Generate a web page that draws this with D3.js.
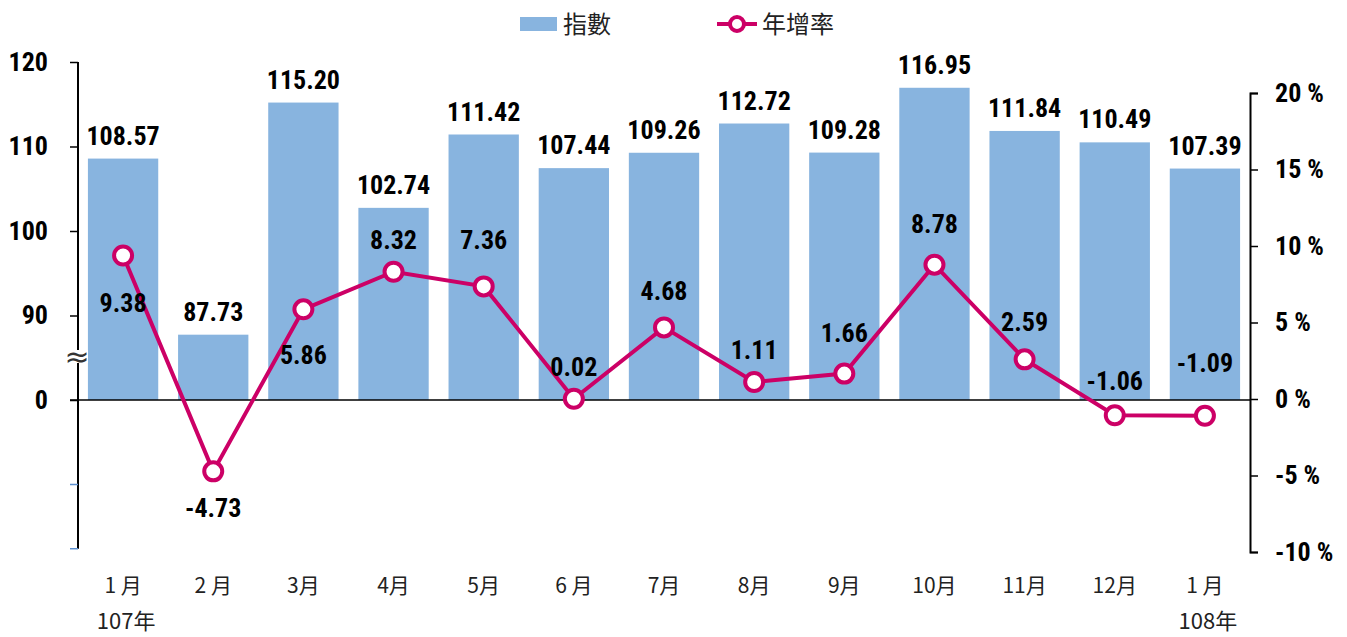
<!DOCTYPE html>
<html>
<head>
<meta charset="utf-8">
<script src="https://cdn.jsdelivr.net/npm/d3@7"></script>
<style>
  body { margin: 0; background: #fff; }
  .num { font-family: "Liberation Sans Narrow", "Arial Narrow", "Roboto Condensed", "Liberation Sans", sans-serif; font-weight: bold; font-stretch: condensed; }
  .cjk { font-family: "Noto Sans CJK TC", "Noto Sans CJK SC", sans-serif; }
</style>
</head>
<body>
<div id="chart"></div>
<script>
(async () => {

    // data
    const months = ["1 月", "2 月", "3月", "4月", "5月", "6 月", "7月", "8月", "9月", "10月", "11月", "12月", "1 月"];
    const years = ["107年", "", "", "", "", "", "", "", "", "", "", "", "108年"];
    const indexValues = [108.57, 87.73, 115.20, 102.74, 111.42, 107.44, 109.26, 112.72, 109.28, 116.95, 111.84, 110.49, 107.39];
    const growthValues = [9.38, -4.73, 5.86, 8.32, 7.36, 0.02, 4.68, 1.11, 1.66, 8.78, 2.59, -1.06, -1.09];
    const leftTicks = [80, 90, 100, 110, 120];
    const rightTicks = [-10, -5, 0, 5, 10, 15, 20];

    // label offsets for the growth labels (pixels from the point)
    const growthLabelDy = [47, 36, 45, -32, -47, -32, -37, -32, -41, -41, -38, -35, -53];

    const width = 1347;
    const height = 637;
    const barColor = "#88b4df";
    const lineColor = "#cc0066";

    const svg = d3.select("#chart")
        .append("svg")
            .attr("width", width)
            .attr("height", height);

    let x_scale = d3.scaleBand()
        .domain(d3.range(months.length))
        .range([78, 1250])
        .paddingInner(0.22)
        .paddingOuter(0.11);

    // broken axis: 80 is drawn as "0"
    let y_bar = d3.scaleLinear()
        .domain([80, 120])
        .range([400, 62]);

    let y_rate = d3.scaleLinear()
        .domain([-10, 20])
        .range([552, 93]);

    // bars
    svg.selectAll("rect.bar")
        .data(indexValues)
        .enter()
        .append("rect")
            .attr("class", "bar")
            .attr("x", (d, i) => x_scale(i))
            .attr("y", d => y_bar(d))
            .attr("width", x_scale.bandwidth())
            .attr("height", d => y_bar(80) - y_bar(d))
            .style("fill", barColor);

    // bar labels
    svg.selectAll("text.barlabel")
        .data(indexValues)
        .enter()
        .append("text")
            .attr("class", "barlabel num")
            .attr("x", (d, i) => x_scale(i) + x_scale.bandwidth() / 2)
            .attr("y", d => y_bar(d) - 14)
            .attr("text-anchor", "middle")
            .style("font-size", "26px")
            .text(d => d.toFixed(2));

    // left axis
    let y_axis = d3.axisLeft(y_bar)
        .tickValues(leftTicks)
        .tickSize(8)
        .tickPadding(22)
        .tickFormat(d => d === 80 ? "0" : d);

    const yAxisG = svg.append("g")
        .attr("class", "y_axis")
        .attr("transform", "translate(78, 0)")
        .call(y_axis);
    yAxisG.select(".domain").remove();
    yAxisG.selectAll("line").attr("stroke", "#000").attr("stroke-width", 1.5);
    yAxisG.selectAll("text")
        .attr("class", "num")
        .style("font-size", "26px")
        .style("fill", "#000");

    // left axis line continues below the break
    svg.append("line")
        .attr("x1", 78).attr("x2", 78)
        .attr("y1", y_bar(120)).attr("y2", y_bar(62.4))
        .attr("stroke", "#000").attr("stroke-width", 2);
    svg.selectAll("line.lowtick")
        .data([70, 62.4])
        .enter()
        .append("line")
            .attr("class", "lowtick")
            .attr("x1", 70).attr("x2", 78)
            .attr("y1", d => y_bar(d)).attr("y2", d => y_bar(d))
            .attr("stroke", "#5b8fd0").attr("stroke-width", 1.5);

    // break mark
    svg.append("rect")
        .attr("x", 66).attr("y", 350)
        .attr("width", 22).attr("height", 13)
        .style("fill", "#fff");
    svg.append("text")
        .attr("x", 77)
        .attr("y", 367)
        .attr("text-anchor", "middle")
        .style("font-family", "DejaVu Sans, sans-serif")
        .style("font-size", "30px")
        .style("fill", "#333")
        .text("≈");

    // baseline
    svg.append("line")
        .attr("x1", 70).attr("x2", 1250)
        .attr("y1", y_bar(80)).attr("y2", y_bar(80))
        .attr("stroke", "#000").attr("stroke-width", 1.5);

    // right axis
    let r_axis = d3.axisRight(y_rate)
        .tickValues(rightTicks)
        .tickSize(8)
        .tickPadding(17)
        .tickFormat(d => d + " %");

    const rAxisG = svg.append("g")
        .attr("class", "r_axis")
        .attr("transform", "translate(1250, 0)")
        .call(r_axis);
    rAxisG.select(".domain").attr("stroke", "#000").attr("stroke-width", 2);
    rAxisG.selectAll("line").attr("stroke", "#000").attr("stroke-width", 1.5);
    rAxisG.selectAll("text")
        .attr("class", "num")
        .style("font-size", "26px")
        .style("fill", "#000");

    // x labels
    svg.selectAll("text.month")
        .data(months)
        .enter()
        .append("text")
            .attr("class", "month cjk")
            .attr("x", (d, i) => x_scale(i) + x_scale.bandwidth() / 2)
            .attr("y", 593)
            .attr("text-anchor", "middle")
            .style("font-size", "21px")
            .style("fill", "#222")
            .text(d => d);

    svg.selectAll("text.year")
        .data(years)
        .enter()
        .append("text")
            .attr("class", "year cjk")
            .attr("x", (d, i) => x_scale(i) + x_scale.bandwidth() / 2 + 3)
            .attr("y", 629)
            .attr("text-anchor", "middle")
            .style("font-size", "22px")
            .style("fill", "#222")
            .text(d => d);

    // growth line
    const cx = (d, i) => x_scale(i) + x_scale.bandwidth() / 2;
    let line = d3.line()
        .x(cx)
        .y(d => y_rate(d));

    svg.append("path")
        .datum(growthValues)
        .attr("d", line)
        .attr("fill", "none")
        .attr("stroke", lineColor)
        .attr("stroke-width", 4);

    svg.selectAll("circle.pt")
        .data(growthValues)
        .enter()
        .append("circle")
            .attr("class", "pt")
            .attr("cx", cx)
            .attr("cy", d => y_rate(d))
            .attr("r", 9)
            .attr("fill", "#fff")
            .attr("stroke", lineColor)
            .attr("stroke-width", 4);

    svg.selectAll("text.ratelabel")
        .data(growthValues)
        .enter()
        .append("text")
            .attr("class", "ratelabel num")
            .attr("x", cx)
            .attr("y", (d, i) => y_rate(d) + growthLabelDy[i])
            .attr("dy", "0.36em")
            .attr("text-anchor", "middle")
            .style("font-size", "26px")
            .text(d => d.toFixed(2));

    // legend
    const legend = svg.append("g").attr("class", "legend");
    legend.append("rect")
        .attr("x", 520).attr("y", 17)
        .attr("width", 37).attr("height", 14)
        .style("fill", barColor);
    legend.append("text")
        .attr("class", "cjk")
        .attr("x", 563).attr("y", 33)
        .style("font-size", "24px")
        .style("fill", "#222")
        .text("指數");
    legend.append("line")
        .attr("x1", 717).attr("x2", 757)
        .attr("y1", 24).attr("y2", 24)
        .attr("stroke", lineColor).attr("stroke-width", 4);
    legend.append("circle")
        .attr("cx", 737).attr("cy", 24).attr("r", 7)
        .attr("fill", "#fff")
        .attr("stroke", lineColor).attr("stroke-width", 4);
    legend.append("text")
        .attr("class", "cjk")
        .attr("x", 762).attr("y", 33)
        .style("font-size", "24px")
        .style("fill", "#222")
        .text("年增率");

})();
</script>
</body>
</html>
